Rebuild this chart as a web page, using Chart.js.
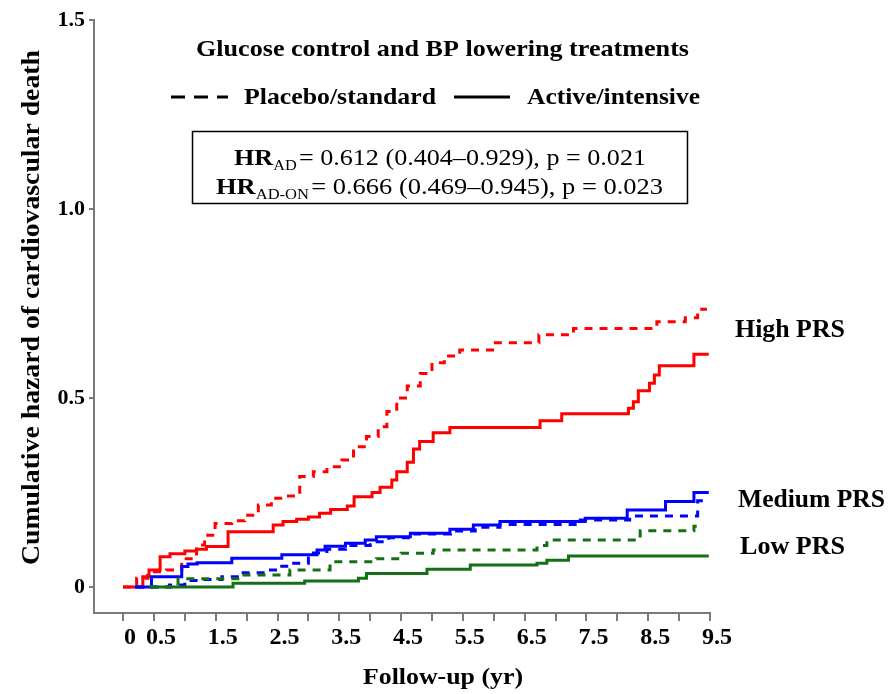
<!DOCTYPE html>
<html>
<head>
<meta charset="utf-8">
<script src="https://cdn.jsdelivr.net/npm/chart.js@4.4.1/dist/chart.umd.min.js"></script>
<style>
  html, body { margin: 0; padding: 0; background: #fff; }
</style>
</head>
<body>
<canvas id="chart" width="888" height="694"></canvas>
<script>
// follow-up (yr) / cumulative hazard
var highPlaceboX = [0, 0.22, 0.4, 0.7, 0.95, 1.19, 1.32, 1.49, 1.76, 1.97, 2.19, 2.4, 2.65, 2.86, 3.08, 3.3, 3.54, 3.73, 3.94, 4.13, 4.27, 4.43, 4.6, 4.81, 5.0, 5.2, 5.45, 5.98, 6.73, 7.29, 8.64, 9.1, 9.3, 9.45];
var highPlaceboY = [0, 0.023, 0.04, 0.045, 0.075, 0.111, 0.137, 0.168, 0.175, 0.19, 0.217, 0.235, 0.241, 0.292, 0.305, 0.318, 0.336, 0.371, 0.398, 0.424, 0.464, 0.5, 0.532, 0.565, 0.593, 0.611, 0.627, 0.646, 0.667, 0.684, 0.702, 0.712, 0.735, 0.735];
var highActiveX = [0, 0.32, 0.42, 0.6, 0.76, 1.0, 1.19, 1.35, 1.7, 2.43, 2.59, 2.81, 3.0, 3.18, 3.36, 3.63, 3.74, 4.03, 4.16, 4.35, 4.43, 4.6, 4.7, 4.8, 5.02, 5.29, 6.75, 7.1, 8.18, 8.26, 8.34, 8.52, 8.6, 8.68, 9.24, 9.48];
var highActiveY = [0, 0.027, 0.045, 0.08, 0.088, 0.095, 0.1, 0.107, 0.146, 0.164, 0.173, 0.179, 0.185, 0.195, 0.205, 0.214, 0.239, 0.25, 0.264, 0.283, 0.305, 0.33, 0.365, 0.385, 0.408, 0.422, 0.44, 0.458, 0.473, 0.49, 0.519, 0.539, 0.561, 0.585, 0.616, 0.616];

var medPlaceboX = [0.21, 0.75, 1.0, 1.3, 1.6, 1.9, 2.3, 2.5, 2.65, 3.0, 3.3, 3.6, 4.0, 4.3, 4.7, 5.3, 5.7, 6.1, 7.4, 8.2, 9.3, 9.46];
var medPlaceboY = [0, 0.005, 0.017, 0.02, 0.027, 0.038, 0.045, 0.055, 0.063, 0.09, 0.1, 0.11, 0.12, 0.13, 0.14, 0.148, 0.158, 0.165, 0.177, 0.188, 0.228, 0.228];
var medActiveX = [0.19, 0.46, 0.95, 1.05, 1.2, 1.76, 2.57, 3.14, 3.27, 3.6, 3.92, 4.1, 4.65, 5.29, 5.67, 6.1, 7.48, 8.16, 8.78, 9.24, 9.48];
var medActiveY = [0, 0.027, 0.054, 0.061, 0.064, 0.076, 0.085, 0.098, 0.108, 0.116, 0.124, 0.133, 0.142, 0.153, 0.164, 0.173, 0.182, 0.204, 0.226, 0.25, 0.25];

var lowPlaceboX = [0.43, 0.89, 1.9, 2.7, 3.35, 4.1, 4.5, 5.02, 6.7, 6.86, 8.37, 9.24, 9.4];
var lowPlaceboY = [0, 0.022, 0.032, 0.045, 0.067, 0.075, 0.089, 0.098, 0.11, 0.124, 0.149, 0.161, 0.161];
var lowActiveX = [0.43, 1.78, 2.94, 3.81, 3.94, 4.92, 5.62, 6.7, 6.86, 7.21, 9.48];
var lowActiveY = [0, 0.01, 0.016, 0.023, 0.036, 0.047, 0.058, 0.063, 0.071, 0.082, 0.082];

// axis ticks
var xTickVals = [0, 0.5, 1, 1.5, 2, 2.5, 3, 3.5, 4, 4.5, 5, 5.5, 6, 6.5, 7, 7.5, 8, 8.5, 9, 9.5];
var xLabelVals = [0, 0.5, 1.5, 2.5, 3.5, 4.5, 5.5, 6.5, 7.5, 8.5, 9.5];
var xLabelText = ['0', '0.5', '1.5', '2.5', '3.5', '4.5', '5.5', '6.5', '7.5', '8.5', '9.5'];
var yTickVals = [0, 0.5, 1.0, 1.5];
var yTickText = ['0', '0.5', '1.0', '1.5'];

var RED = '#ff0000', BLUE = '#0000ff', GREEN = '#157015';
var SERIF = "'Liberation Serif', 'Times New Roman', serif";

function pts(xs, ys) {
  return xs.map(function(x, i) { return { x: x, y: ys[i] }; });
}

function curve(xs, ys, color, dashed) {
  return {
    data: pts(xs, ys),
    borderColor: color,
    borderWidth: 3,
    borderDash: dashed ? [8, 7] : [],
    borderCapStyle: 'butt',
    stepped: true,
    pointRadius: 0,
    fill: false
  };
}

// draw a row of text pieces, fitted to a given width
function fitRow(ctx, parts, left, base, width) {
  var total = 0;
  parts.forEach(function(p) { ctx.font = p.font; p.w = ctx.measureText(p.t).width; total += p.w + (p.gap || 0); });
  var s = width / total;
  ctx.save();
  ctx.translate(left, base);
  ctx.scale(s, 1);
  var cx = 0;
  parts.forEach(function(p) {
    ctx.font = p.font;
    ctx.fillText(p.t, cx, p.dy || 0);
    cx += p.w + (p.gap || 0);
  });
  ctx.restore();
}

var annotations = {
  id: 'annotations',
  afterDraw: function(chart) {
    var ctx = chart.ctx;
    var B24 = 'bold 24px ' + SERIF, R24 = '24px ' + SERIF, R15 = '15px ' + SERIF;
    ctx.save();
    ctx.fillStyle = '#000';
    ctx.textAlign = 'left';
    ctx.textBaseline = 'alphabetic';

    fitRow(ctx, [{ t: 'Glucose control and BP lowering treatments', font: B24 }], 196, 56, 493);

    // legend
    ctx.strokeStyle = '#000';
    ctx.lineWidth = 3;
    ctx.setLineDash([14, 9]);
    ctx.beginPath(); ctx.moveTo(171, 97); ctx.lineTo(228, 97); ctx.stroke();
    ctx.setLineDash([]);
    ctx.beginPath(); ctx.moveTo(454, 97); ctx.lineTo(510, 97); ctx.stroke();
    fitRow(ctx, [{ t: 'Placebo/standard', font: B24 }], 244, 104, 192);
    fitRow(ctx, [{ t: 'Active/intensive', font: B24 }], 527, 104, 173);

    // hazard ratio box
    ctx.lineWidth = 1.5;
    ctx.strokeRect(192.5, 131.5, 495, 72);
    fitRow(ctx, [
      { t: 'HR', font: B24 },
      { t: 'AD', font: R15, dy: 5, gap: 2 },
      { t: '= 0.612 (0.404\u20130.929), p = 0.021', font: R24 }
    ], 234, 165, 412);
    fitRow(ctx, [
      { t: 'HR', font: B24 },
      { t: 'AD-ON', font: R15, dy: 5, gap: 2 },
      { t: '= 0.666 (0.469\u20130.945), p = 0.023', font: R24 }
    ], 216, 194, 447);

    // group labels
    fitRow(ctx, [{ t: 'High PRS', font: 'bold 25px ' + SERIF }], 735, 337, 110);
    fitRow(ctx, [{ t: 'Medium PRS', font: 'bold 25px ' + SERIF }], 738, 507, 147);
    fitRow(ctx, [{ t: 'Low PRS', font: 'bold 25px ' + SERIF }], 740, 554, 105);

    // axis titles
    fitRow(ctx, [{ t: 'Follow-up (yr)', font: 'bold 24px ' + SERIF }], 363, 684, 160);
    ctx.translate(39, 307.5);
    ctx.rotate(-Math.PI / 2);
    fitRow(ctx, [{ t: 'Cumulative hazard of cardiovascular death', font: 'bold 25px ' + SERIF }], -257.5, 0, 515);
    ctx.restore();
  }
};

new Chart(document.getElementById('chart'), {
  type: 'line',
  data: {
    datasets: [
      curve(lowActiveX, lowActiveY, GREEN, false),
      curve(lowPlaceboX, lowPlaceboY, GREEN, true),
      curve(medPlaceboX, medPlaceboY, BLUE, true),
      curve(medActiveX, medActiveY, BLUE, false),
      curve(highPlaceboX, highPlaceboY, RED, true),
      curve(highActiveX, highActiveY, RED, false)
    ]
  },
  options: {
    responsive: false,
    animation: false,
    layout: { padding: { left: 0, right: 178, top: 20, bottom: 0 } },
    plugins: { legend: { display: false }, tooltip: { enabled: false } },
    scales: {
      x: {
        type: 'linear',
        min: -0.47,
        max: 9.5,
        afterBuildTicks: function(scale) {
          scale.ticks = xTickVals.map(function(v) { return { value: v }; });
        },
        afterFit: function(scale) { scale.height = 81; },
        ticks: {
          autoSkip: false,
          maxRotation: 0,
          labelOffset: 7,
          padding: 2,
          color: '#000',
          font: { family: SERIF, size: 24, weight: 'bold' },
          callback: function(v) {
            var i = xLabelVals.indexOf(v);
            return i < 0 ? '' : xLabelText[i];
          }
        },
        grid: { drawOnChartArea: false, drawTicks: true, tickLength: 8, color: '#7a7a7a', lineWidth: 2 },
        border: { color: '#7a7a7a', width: 2 }
      },
      y: {
        type: 'linear',
        min: -0.0688,
        max: 1.5,
        afterBuildTicks: function(scale) {
          scale.ticks = yTickVals.map(function(v) { return { value: v }; });
        },
        afterFit: function(scale) { scale.width = 94; },
        ticks: {
          padding: 4,
          color: '#000',
          font: { family: SERIF, size: 22, weight: 'bold' },
          callback: function(v) {
            var i = yTickVals.indexOf(v);
            return i < 0 ? '' : yTickText[i];
          }
        },
        grid: { drawOnChartArea: false, drawTicks: true, tickLength: 5, color: '#7a7a7a', lineWidth: 2 },
        border: { color: '#7a7a7a', width: 2 }
      }
    }
  },
  plugins: [annotations]
});
</script>
</body>
</html>
